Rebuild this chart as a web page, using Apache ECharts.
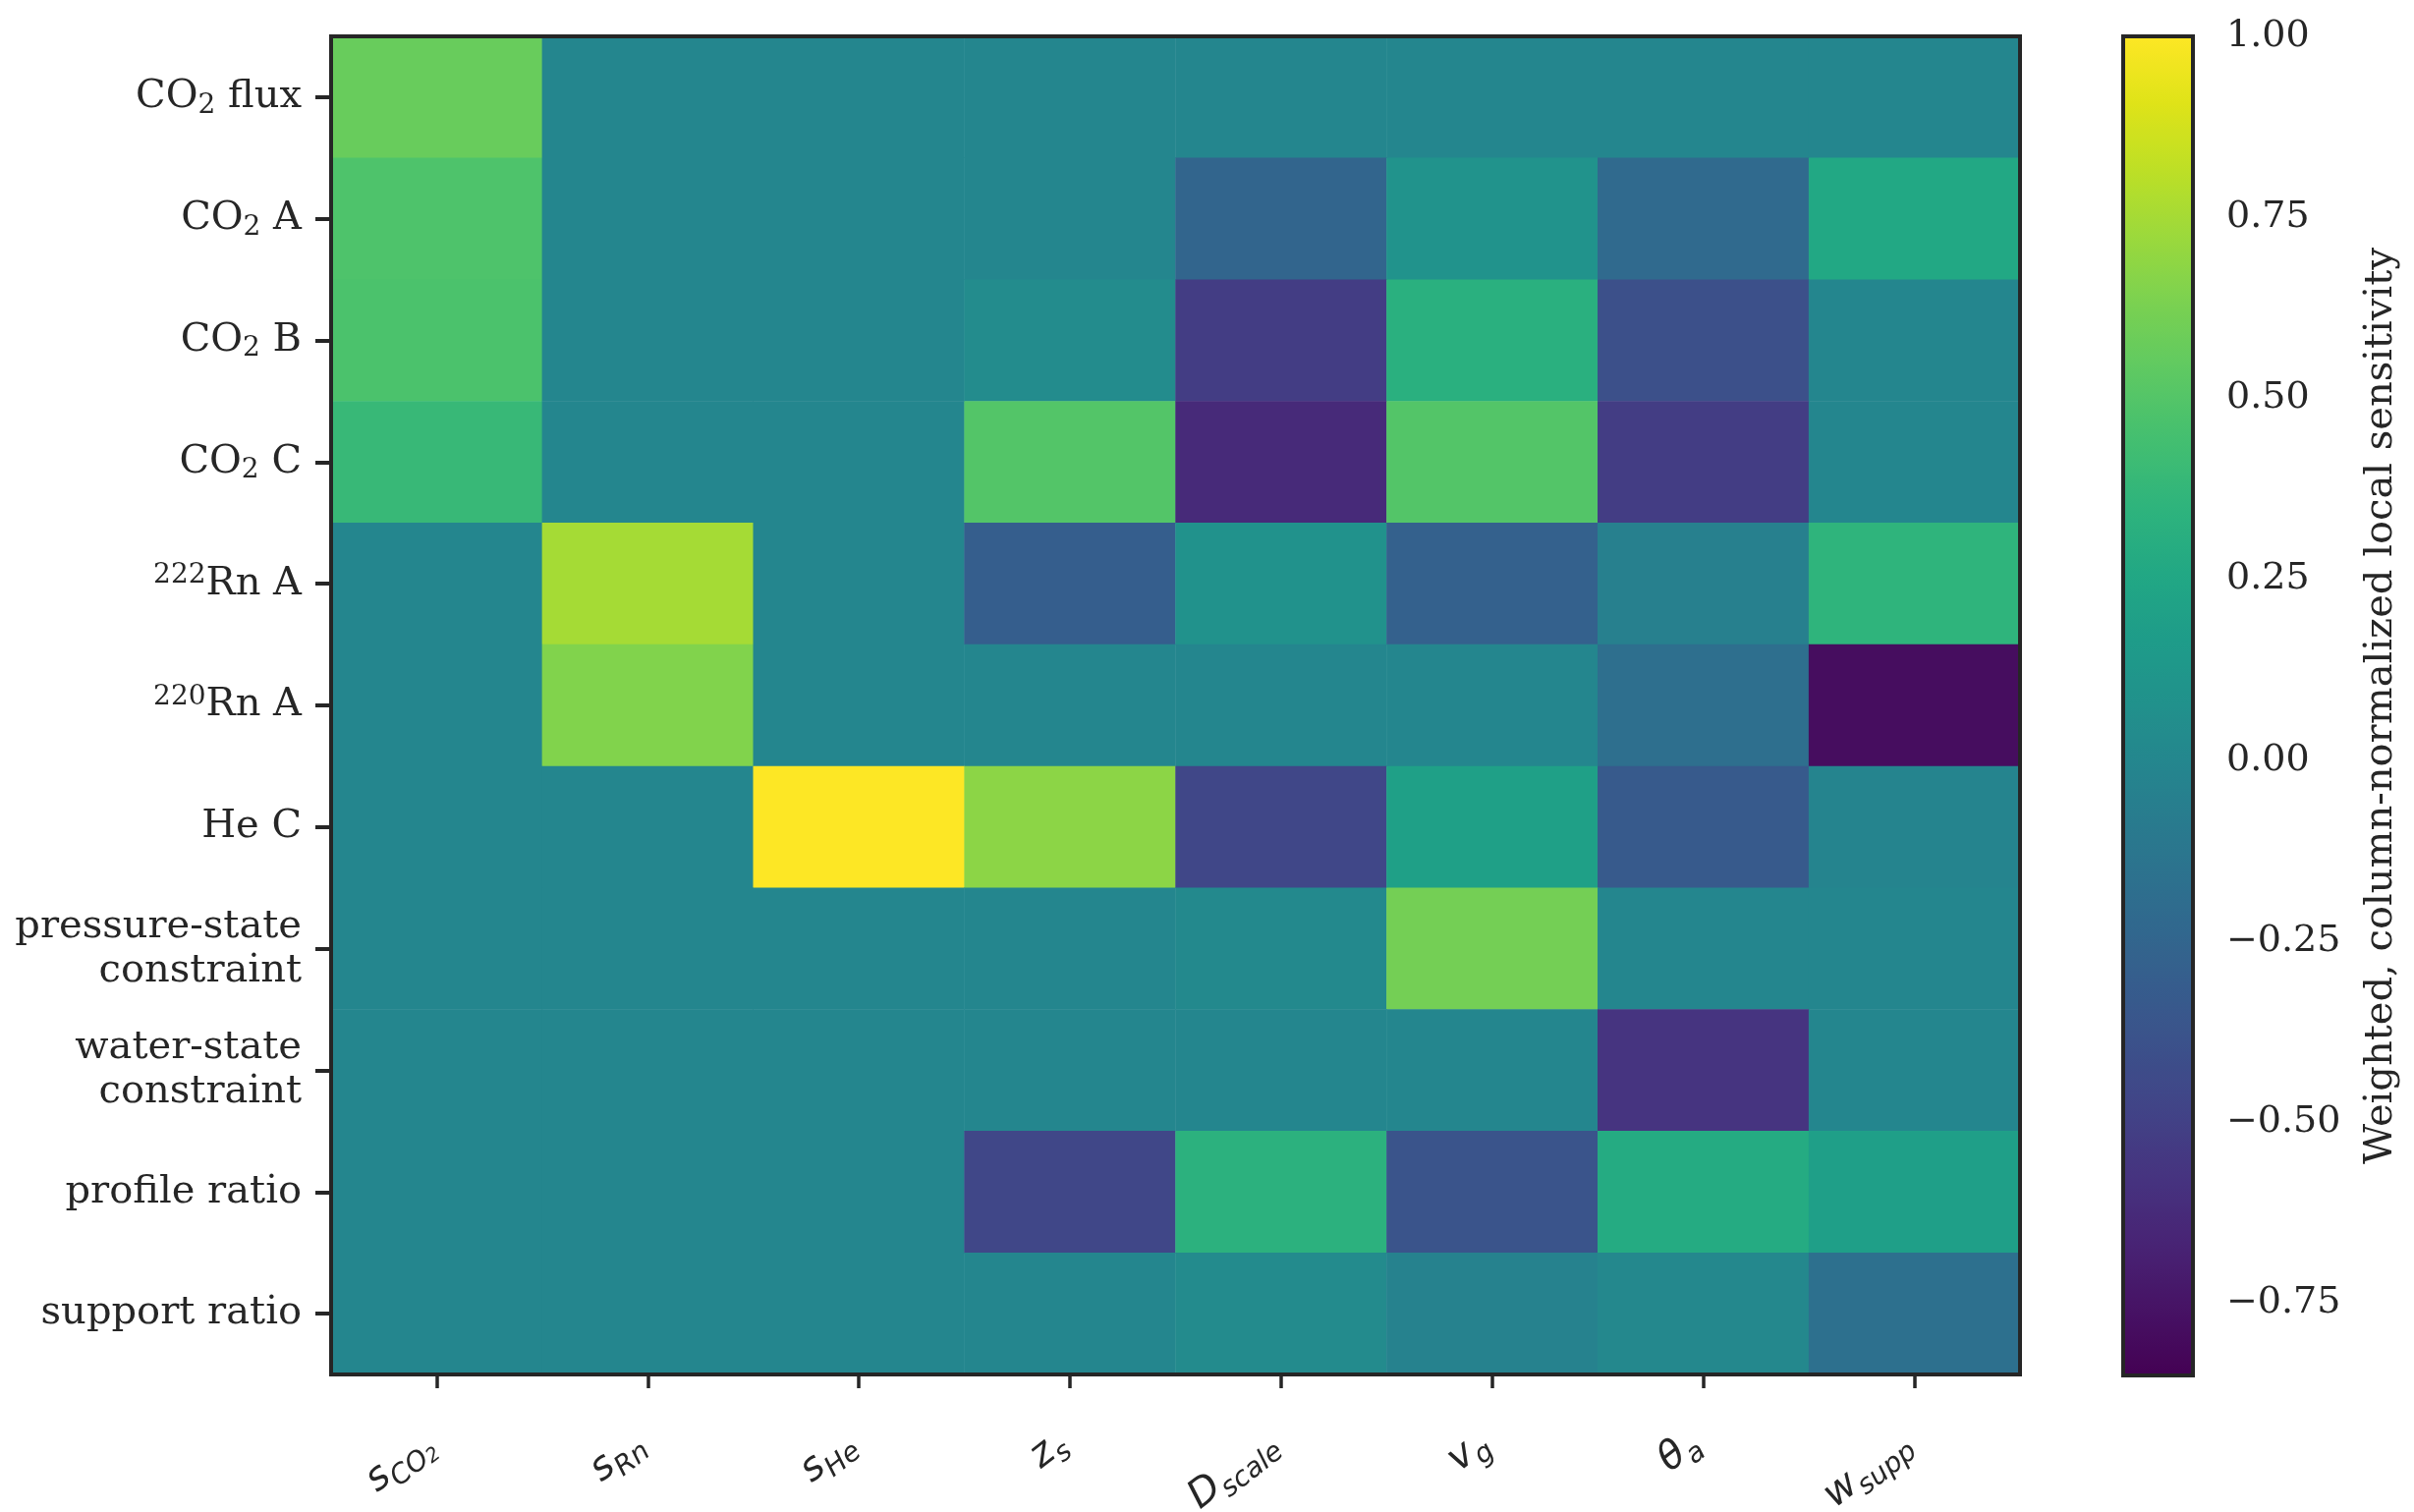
<!DOCTYPE html>
<html lang="en">
<head>
    <meta charset="UTF-8">
    <title>Weighted local sensitivity</title>
    <style>
        html, body { margin: 0; padding: 0; background: #fff; }
    </style>
</head>
<body>
<div id="main" style="width: 2457px;height:1539px;"></div>
<script type="text/javascript" src="https://cdn.jsdelivr.net/npm/echarts@6/dist/echarts.min.js"></script>
<script>
    // parameters (columns) and observations (rows)
    var paramBase = ['s', 's', 's', 'z', 'D', 'v', 'θ', 'w'];
    var paramSub = ['CO', 'Rn', 'He', 's', 'scale', 'g', 'a', 'supp'];
    var paramSub2 = ['2', '', '', '', '', '', '', ''];
    var rowNames = ['CO₂ flux', 'CO₂ A', 'CO₂ B', 'CO₂ C', '²²²Rn A', '²²⁰Rn A', 'He C',
        'pressure-state\nconstraint', 'water-state\nconstraint', 'profile ratio', 'support ratio'];

    // one array per row
    var rowCO2flux   = [0.57, 0, 0, 0, 0, 0, 0, 0];
    var rowCO2A      = [0.48, 0, 0, 0, -0.25, 0.09, -0.22, 0.26];
    var rowCO2B      = [0.47, 0, 0, 0.04, -0.52, 0.32, -0.40, 0];
    var rowCO2C      = [0.39, 0, 0, 0.50, -0.63, 0.50, -0.52, 0];
    var rowRn222A    = [0, 0.75, 0, -0.30, 0.08, -0.28, -0.05, 0.35];
    var rowRn220A    = [0, 0.65, 0, 0, 0, 0, -0.18, -0.79];
    var rowHeC       = [0, 0, 1.00, 0.68, -0.46, 0.20, -0.33, -0.02];
    var rowPressure  = [0, 0, 0, 0, 0.02, 0.61, 0, 0];
    var rowWater     = [0, 0, 0, 0, 0, 0, -0.57, 0];
    var rowProfile   = [0, 0, 0, -0.46, 0.33, -0.37, 0.28, 0.19];
    var rowSupport   = [0, 0, 0, 0, 0.03, -0.03, 0.01, -0.17];
    var matrix = [rowCO2flux, rowCO2A, rowCO2B, rowCO2C, rowRn222A, rowRn220A, rowHeC,
        rowPressure, rowWater, rowProfile, rowSupport];

    var cbarMin = -0.85;
    var cbarMax = 1.0;
    var cbarTicks = [-0.75, -0.5, -0.25, 0, 0.25, 0.5, 0.75, 1.0];

    var viridis = ['#440154', '#471365', '#482475', '#463480', '#414487', '#3b528b', '#355f8d',
        '#2f6c8e', '#2a788e', '#25848e', '#21918c', '#1e9c89', '#22a884', '#2fb47c', '#44bf70',
        '#5ec962', '#7ad151', '#9bd93c', '#bddf26', '#dfe318', '#fde725'];

    var heatData = [];
    matrix.forEach(function (row, r) {
        row.forEach(function (v, c) {
            heatData.push([c, r, v]);
        });
    });

    var ink = '#262626';
    var serif = 'DejaVu Serif';
    var sans = 'DejaVu Sans';

    // CO₂ -> CO{sub|2}, ²²²Rn -> {sup|222}Rn
    function richRow(name) {
        return name
            .replace(/₂/g, '{sub|2}')
            .replace('²²²', '{sup|222}')
            .replace('²²⁰', '{sup|220}')
            .split('\n').map(function (line) {
                return line.replace(/^([^{]+)/, '{m|$1}').replace(/\}([^{}]+)$/, '}{m|$1}');
            }).join('\n');
    }

    var myChart = echarts.init(document.getElementById('main'));

    var option = {
        backgroundColor: '#ffffff',
        animation: false,
        grid: [
            {
                left: 337, top: 37, width: 1719, height: 1362,
                containLabel: false, outerBoundsMode: 'none',
                show: true, borderColor: ink, borderWidth: 4,
                backgroundColor: 'rgba(0,0,0,0)', z: 10
            },
            {
                left: 2161, top: 37, width: 71, height: 1363,
                containLabel: false, outerBoundsMode: 'none',
                show: true, borderColor: ink, borderWidth: 4,
                backgroundColor: 'rgba(0,0,0,0)', z: 10
            }
        ],
        xAxis: [
            {
                type: 'category',
                gridIndex: 0,
                data: paramBase.map(function (b, i) { return b + '_' + paramSub[i] + paramSub2[i]; }),
                axisLine: { show: true, lineStyle: { color: ink, width: 4 } },
                axisTick: { show: true, inside: false, alignWithLabel: true, length: 14, lineStyle: { color: ink, width: 3.5 } },
                axisLabel: {
                    show: true,
                    rotate: 38,
                    margin: 60,
                    interval: 0,
                    fontStyle: 'italic',
                    fontFamily: sans,
                    formatter: function (val, i) {
                        if (paramSub2[i]) {
                            return '{b|' + paramBase[i] + '}{s|' + paramSub[i] + '}{ss|' + paramSub2[i] + '}';
                        }
                        return '{b|' + paramBase[i] + '}{sl|' + paramSub[i] + '}';
                    },
                    rich: {
                        b: { fontFamily: sans, fontStyle: 'italic', fontSize: 40, color: ink, lineHeight: 52 },
                        s: { fontFamily: sans, fontStyle: 'italic', fontSize: 28, color: ink, lineHeight: 40, verticalAlign: 'bottom' },
                        sl: { fontFamily: sans, fontStyle: 'italic', fontSize: 28, color: ink, lineHeight: 40, verticalAlign: 'bottom', padding: [0, 10, 0, 0] },
                        ss: { fontFamily: sans, fontStyle: 'italic', fontSize: 20, color: ink, lineHeight: 44, verticalAlign: 'bottom', padding: [0, 10, 0, 0] }
                    }
                },
                splitLine: { show: false }
            },
            {
                type: 'value',
                gridIndex: 1,
                show: false,
                min: 0, max: 1
            }
        ],
        yAxis: [
            {
                type: 'category',
                gridIndex: 0,
                inverse: true,
                data: rowNames,
                axisLine: { show: true, lineStyle: { color: ink, width: 4 } },
                axisTick: { show: true, inside: false, alignWithLabel: true, length: 16, lineStyle: { color: ink, width: 4 } },
                axisLabel: {
                    show: true,
                    margin: 30,
                    interval: 0,
                    align: 'right',
                    formatter: function (val) { return richRow(val); },
                    rich: {
                        m: { fontFamily: serif, fontSize: 40, color: ink, lineHeight: 45 },
                        sub: { fontFamily: serif, fontSize: 28, color: ink, lineHeight: 20, verticalAlign: 'bottom' },
                        sup: { fontFamily: serif, fontSize: 28, color: ink, lineHeight: 26, verticalAlign: 'top' }
                    }
                },
                splitLine: { show: false }
            },
            {
                type: 'value',
                gridIndex: 1,
                position: 'right',
                min: cbarMin,
                max: cbarMax,
                axisLine: { show: true, lineStyle: { color: ink, width: 4 } },
                axisTick: {
                    show: true, inside: false, length: 16,
                    customValues: cbarTicks,
                    lineStyle: { color: ink, width: 4 }
                },
                axisLabel: {
                    show: true,
                    margin: 34,
                    color: ink,
                    fontFamily: serif,
                    fontSize: 38,
                    customValues: cbarTicks,
                    formatter: function (v) {
                        return v.toFixed(2).replace('-', '−');
                    }
                },
                splitLine: { show: false },
                name: 'Weighted, column-normalized local sensitivity',
                nameLocation: 'middle',
                nameRotate: 90,
                nameGap: 172,
                nameTextStyle: { color: ink, fontFamily: serif, fontSize: 40 }
            }
        ],
        visualMap: {
            type: 'continuous',
            seriesIndex: 0,
            min: cbarMin,
            max: cbarMax,
            calculable: false,
            hoverLink: false,
            orient: 'vertical',
            left: 2161,
            top: 37,
            padding: 0,
            itemWidth: 71,
            itemHeight: 1363,
            text: null,
            inRange: { color: viridis }
        },
        series: [
            {
                name: 'sensitivity',
                type: 'heatmap',
                xAxisIndex: 0,
                yAxisIndex: 0,
                data: heatData,
                itemStyle: { borderWidth: 0 },
                emphasis: { disabled: true }
            }
        ]
    };

    myChart.setOption(option);
</script>
</body>
</html>
